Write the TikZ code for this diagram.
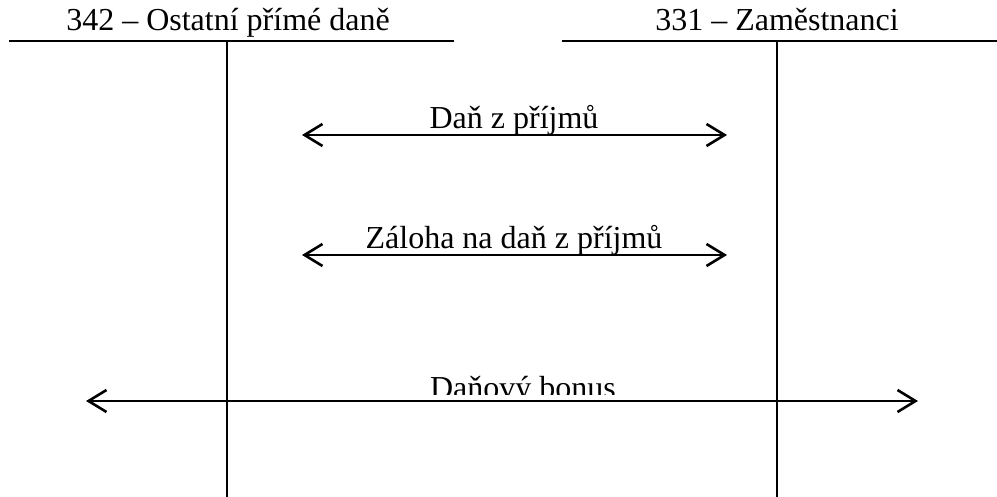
\documentclass[tikz,border=0pt]{standalone}
\usepackage{fontspec}
\setmainfont{Liberation Serif}
\usetikzlibrary{arrows.meta}
\begin{document}
\begin{tikzpicture}[x=1pt,y=-1pt,line width=2pt,
  lbl/.style={font=\fontsize{32}{36}\selectfont,inner sep=0pt,anchor=base},
  dbl/.style={line width=2.6pt,{Straight Barb[length=18pt,width=22pt]}-{Straight Barb[length=18pt,width=22pt]}}]
\useasboundingbox (0,0) rectangle (997,497);
% T-account 342
\node[lbl] (t1) at (228,31) {342 – Ostatní přímé daně};
\coordinate (h1l) at (9,41);
\coordinate (h1r) at (454,41);
\coordinate (v1t) at (227,41);
\coordinate (v1b) at (227,497);
\draw (h1l) -- (h1r);
\draw (v1t) -- (v1b);
% T-account 331
\node[lbl] (t2) at (777,31) {331 – Zaměstnanci};
\coordinate (h2l) at (562,41);
\coordinate (h2r) at (997,41);
\coordinate (v2t) at (777,41);
\coordinate (v2b) at (777,497);
\draw (h2l) -- (h2r);
\draw (v2t) -- (v2b);
% arrows
\coordinate (a1l) at (302,135);
\coordinate (a1r) at (727,135);
\draw[dbl] (a1l) -- (a1r);
\node[lbl] (l1) at (514,129) {Daň z příjmů};
\coordinate (a2l) at (302,255);
\coordinate (a2r) at (727,255);
\draw[dbl] (a2l) -- (a2r);
\node[lbl] (l2) at (514,249) {Záloha na daň z příjmů};
\coordinate (a3l) at (86,401);
\coordinate (a3r) at (918,401);
\begin{scope}
\clip (380,350) rectangle (660,394);
\node[lbl] (l3) at (523,398) {Daňový bonus};
\end{scope}
\draw[dbl] (a3l) -- (a3r);
\end{tikzpicture}
\end{document}
